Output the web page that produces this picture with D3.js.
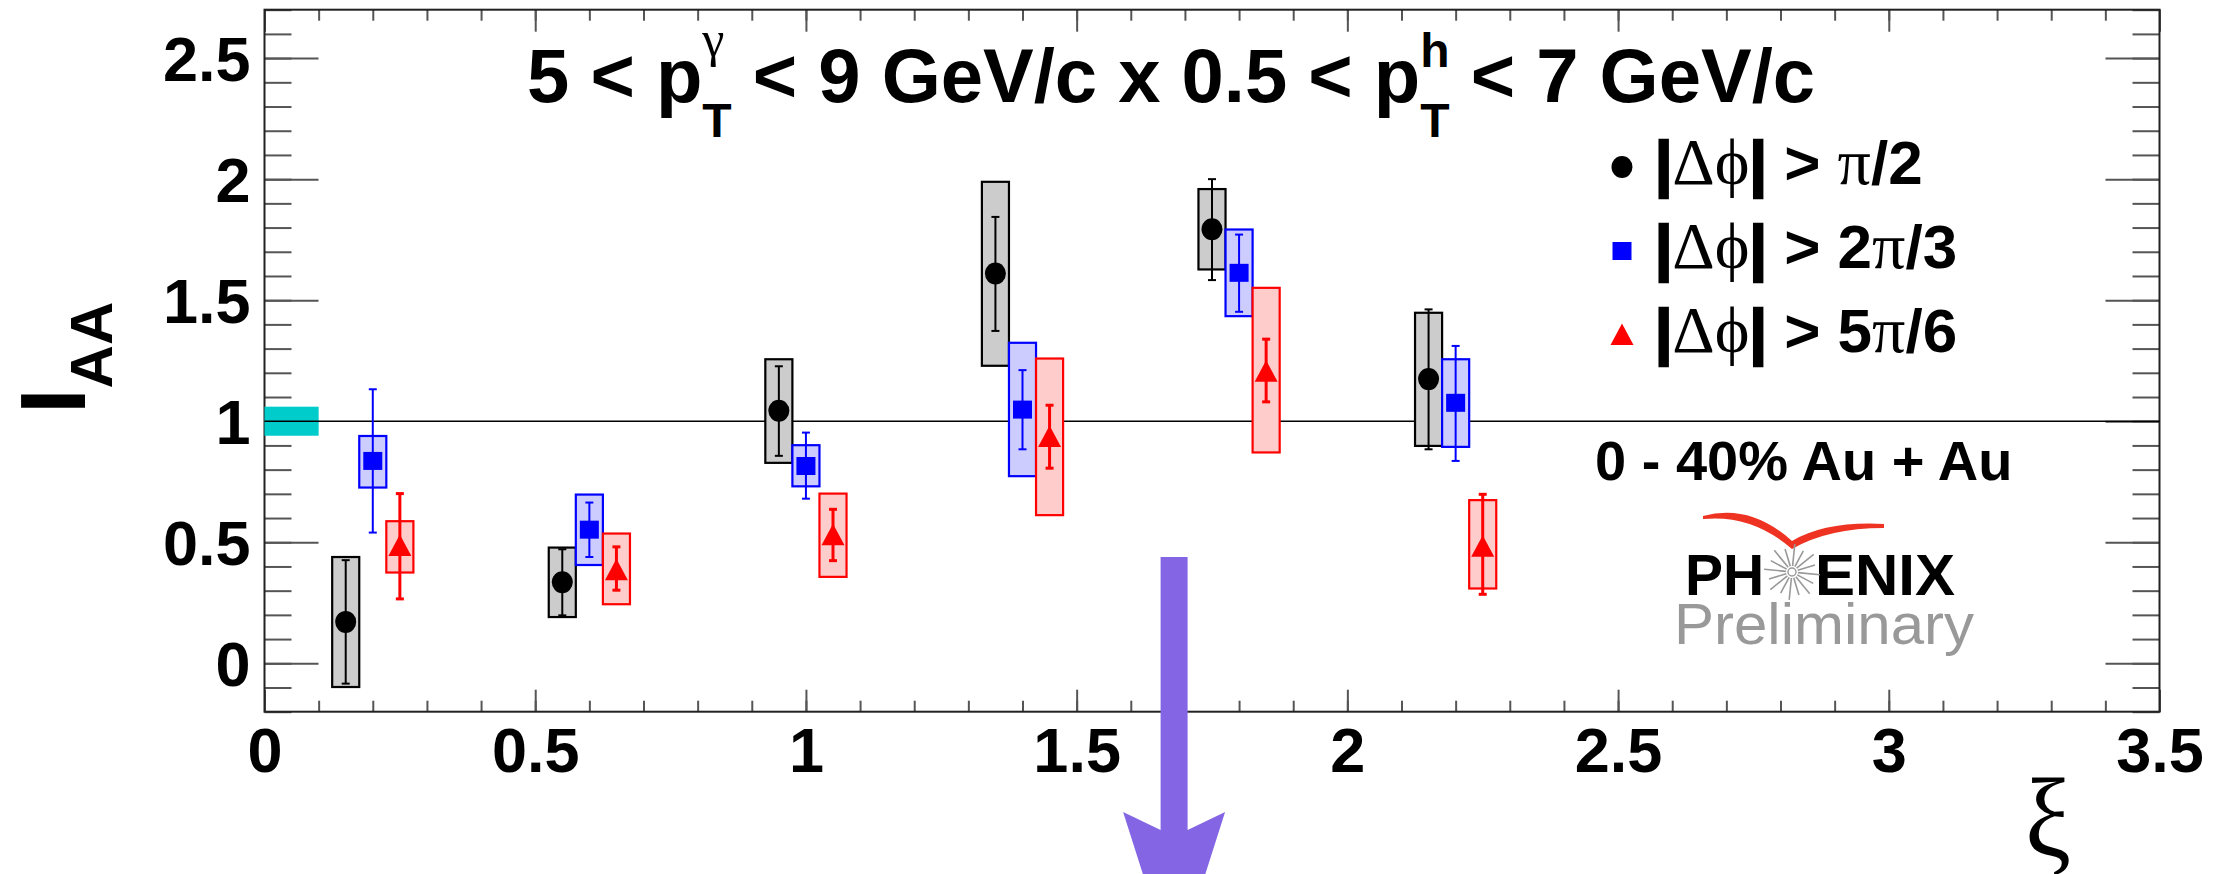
<!DOCTYPE html>
<html>
<head>
<meta charset="utf-8">
<script src="https://cdn.jsdelivr.net/npm/d3@7"></script>
<style>
  html, body { margin: 0; padding: 0; background: #fff; }
  svg { display: block; }
</style>
</head>
<body>
<svg id="chart" width="2221" height="874"></svg>
<script>
// ---------------- DATA ----------------
const seriesNames = ["|Δϕ| > π/2", "|Δϕ| > 2π/3", "|Δϕ| > 5π/6"];

const xiBlack      = [0.15, 0.55, 0.95, 1.35, 1.75, 2.15];
const iaaBlack     = [0.171, 0.335, 1.043, 1.610, 1.793, 1.174];
const statLoBlack  = [-0.084, 0.198, 0.857, 1.373, 1.583, 0.884];
const statHiBlack  = [0.426, 0.471, 1.227, 1.844, 2.000, 1.462];
const sysLoBlack   = [-0.098, 0.191, 0.828, 1.229, 1.627, 0.898];
const sysHiBlack   = [0.439, 0.478, 1.256, 1.989, 1.959, 1.448];

const xiBlue       = [0.20, 0.60, 1.00, 1.40, 1.80, 2.20];
const iaaBlue      = [0.836, 0.552, 0.815, 1.048, 1.613, 1.076];
const statLoBlue   = [0.540, 0.439, 0.680, 0.884, 1.452, 0.836];
const statHiBlue   = [1.132, 0.664, 0.953, 1.211, 1.771, 1.311];
const sysLoBlue    = [0.726, 0.406, 0.731, 0.773, 1.434, 0.894];
const sysHiBlue    = [0.939, 0.697, 0.901, 1.324, 1.792, 1.256];

const xiRed        = [0.25, 0.65, 1.05, 1.45, 1.85, 2.25];
const iaaRed       = [0.484, 0.384, 0.529, 0.935, 1.204, 0.481];
const statLoRed    = [0.266, 0.302, 0.424, 0.806, 1.080, 0.285];
const statHiRed    = [0.701, 0.481, 0.636, 1.066, 1.339, 0.698];
const sysLoRed     = [0.375, 0.244, 0.357, 0.612, 0.871, 0.309];
const sysHiRed     = [0.587, 0.536, 0.701, 1.259, 1.551, 0.674];

const normBandX = [0, 0.1];
const normBandY = [0.94, 1.06];
const refLine = 1;

const xTicks = [0, 0.5, 1, 1.5, 2, 2.5, 3, 3.5];
const xTickLabels = ["0", "0.5", "1", "1.5", "2", "2.5", "3", "3.5"];
const yTicks = [0, 0.5, 1, 1.5, 2, 2.5];
const yTickLabels = ["0", "0.5", "1", "1.5", "2", "2.5"];
const xDomain = [0, 3.5];
const yDomain = [-0.2, 2.7];
const arrowXi = 1.68;

// ---------------- LAYOUT ----------------
const L = 264.5, R = 2159.5, T = 9.7, B = 711.7;
const SANS = "'Liberation Sans', Arial, Helvetica, sans-serif";
const SERIF = "'Liberation Serif', 'DejaVu Serif', 'Times New Roman', serif";

const svg = d3.select("#chart");
svg.append("rect").attr("width", 2221).attr("height", 874).attr("fill", "#fff");

const x = d3.scaleLinear().domain(xDomain).range([L, R]);
const y = d3.scaleLinear().domain(yDomain).range([B, T]);

// ticks
const minorX = d3.range(0, 3.5001, 0.1).map(v => +v.toFixed(2));
const minorY = d3.range(-0.2, 2.7001, 0.1).map(v => +v.toFixed(2));
const tickColor = "#555";
function styleAxis(g) {
  g.select(".domain").remove();
  g.selectAll(".tick line").attr("stroke", tickColor).attr("stroke-width", 2);
}
svg.append("g").attr("transform", `translate(0,${B})`)
  .call(d3.axisBottom(x).tickValues(minorX).tickSizeInner(-11).tickSizeOuter(0).tickFormat(""))
  .call(styleAxis);
svg.append("g").attr("transform", `translate(0,${B})`)
  .call(d3.axisBottom(x).tickValues(xTicks).tickSizeInner(-22).tickSizeOuter(0).tickFormat(""))
  .call(styleAxis);
svg.append("g").attr("transform", `translate(0,${T})`)
  .call(d3.axisTop(x).tickValues(minorX).tickSizeInner(-11).tickSizeOuter(0).tickFormat(""))
  .call(styleAxis);
svg.append("g").attr("transform", `translate(0,${T})`)
  .call(d3.axisTop(x).tickValues(xTicks).tickSizeInner(-22).tickSizeOuter(0).tickFormat(""))
  .call(styleAxis);
svg.append("g").attr("transform", `translate(${L},0)`)
  .call(d3.axisLeft(y).tickValues(minorY).tickSizeInner(-27).tickSizeOuter(0).tickFormat(""))
  .call(styleAxis);
svg.append("g").attr("transform", `translate(${L},0)`)
  .call(d3.axisLeft(y).tickValues(yTicks).tickSizeInner(-54).tickSizeOuter(0).tickFormat(""))
  .call(styleAxis);
svg.append("g").attr("transform", `translate(${R},0)`)
  .call(d3.axisRight(y).tickValues(minorY).tickSizeInner(-27).tickSizeOuter(0).tickFormat(""))
  .call(styleAxis);
svg.append("g").attr("transform", `translate(${R},0)`)
  .call(d3.axisRight(y).tickValues(yTicks).tickSizeInner(-54).tickSizeOuter(0).tickFormat(""))
  .call(styleAxis);

// tick labels
const xl = svg.append("g").attr("transform", `translate(0,${B})`)
  .call(d3.axisBottom(x).tickValues(xTicks).tickSize(0).tickPadding(16)
        .tickFormat((d, i) => xTickLabels[i]));
xl.select(".domain").remove();
xl.selectAll("text").attr("font-family", SANS).attr("font-weight", "bold")
  .attr("font-size", 63).attr("fill", "#000");
const yl = svg.append("g").attr("transform", `translate(${L},0)`)
  .call(d3.axisLeft(y).tickValues(yTicks).tickSize(0).tickPadding(14)
        .tickFormat((d, i) => yTickLabels[i]));
yl.select(".domain").remove();
yl.selectAll("text").attr("font-family", SANS).attr("font-weight", "bold")
  .attr("font-size", 63).attr("dy", "0.36em").attr("fill", "#000");

// frame
svg.append("rect").attr("x", L).attr("y", T).attr("width", R - L).attr("height", B - T)
  .attr("fill", "none").attr("stroke", "#222").attr("stroke-width", 2);

// normalization band
svg.append("rect")
  .attr("x", x(normBandX[0])).attr("width", x(normBandX[1]) - x(normBandX[0]))
  .attr("y", y(normBandY[1])).attr("height", y(normBandY[0]) - y(normBandY[1]))
  .attr("fill", "#00cccc");

// reference line
svg.append("line").attr("x1", L).attr("x2", R).attr("y1", y(refLine)).attr("y2", y(refLine))
  .attr("stroke", "#000").attr("stroke-width", 1.6);

// ---------------- SERIES ----------------
const halfW = 0.025;
const series = [
  { xi: xiBlack, v: iaaBlack, sl: statLoBlack, sh: statHiBlack, yl: sysLoBlack, yh: sysHiBlack,
    stroke: "#000", fill: "#cccccc", errW: 2, marker: "circle" },
  { xi: xiBlue, v: iaaBlue, sl: statLoBlue, sh: statHiBlue, yl: sysLoBlue, yh: sysHiBlue,
    stroke: "#0000ff", fill: "#ccccff", errW: 2, marker: "square" },
  { xi: xiRed, v: iaaRed, sl: statLoRed, sh: statHiRed, yl: sysLoRed, yh: sysHiRed,
    stroke: "#ff0000", fill: "#ffcccc", errW: 3, marker: "triangle" }
];

function drawMarker(g, type, cx, cy, color) {
  if (type === "circle") {
    g.append("ellipse").attr("cx", cx).attr("cy", cy).attr("rx", 10.5).attr("ry", 11).attr("fill", color);
  } else if (type === "square") {
    g.append("rect").attr("x", cx - 9.5).attr("y", cy - 9).attr("width", 19).attr("height", 18).attr("fill", color);
  } else {
    g.append("path").attr("d", `M${cx},${cy - 11.5} L${cx + 11.5},${cy + 10} L${cx - 11.5},${cy + 10} Z`).attr("fill", color);
  }
}

series.forEach(s => {
  const g = svg.append("g");
  s.xi.forEach((xv, i) => {
    g.append("rect")
      .attr("x", x(xv - halfW)).attr("width", x(xv + halfW) - x(xv - halfW))
      .attr("y", y(s.yh[i])).attr("height", y(s.yl[i]) - y(s.yh[i]))
      .attr("fill", s.fill).attr("stroke", s.stroke).attr("stroke-width", 2.2);
  });
});
series.forEach(s => {
  const g = svg.append("g");
  s.xi.forEach((xv, i) => {
    const cx = x(xv);
    g.append("line").attr("x1", cx).attr("x2", cx).attr("y1", y(s.sh[i])).attr("y2", y(s.sl[i]))
      .attr("stroke", s.stroke).attr("stroke-width", s.errW);
    [s.sh[i], s.sl[i]].forEach(e => {
      g.append("line").attr("x1", cx - 4).attr("x2", cx + 4).attr("y1", y(e)).attr("y2", y(e))
        .attr("stroke", s.stroke).attr("stroke-width", s.errW);
    });
    drawMarker(g, s.marker, cx, y(s.v[i]), s.stroke);
  });
});

// ---------------- TITLE ----------------
const titleParts = [
  { t: "5 < p", size: 76 },
  { stack: [ { t: "γ", size: 50, dy: -46, family: SERIF, weight: "normal" },
             { t: "T", size: 48, dy: 35 } ] },
  { t: " < 9 GeV/c x 0.5 < p", size: 76 },
  { stack: [ { t: "h", size: 48, dy: -35 }, { t: "T", size: 48, dy: 35 } ] },
  { t: " < 7 GeV/c", size: 76 }
];
const title = svg.append("text").attr("x", 527).attr("y", 102)
  .attr("font-family", SANS).attr("font-weight", "bold").attr("font-size", 76)
  .attr("xml:space", "preserve").style("white-space", "pre");
let curY = 0;
titleParts.forEach(p => {
  if (p.stack) {
    const a = p.stack[0], b = p.stack[1];
    const ta = title.append("tspan").attr("dy", a.dy - curY).attr("font-size", a.size)
      .attr("font-family", a.family || SANS).attr("font-weight", a.weight || "bold").text(a.t);
    const wa = ta.node().getComputedTextLength();
    const tb = title.append("tspan").attr("dx", -wa).attr("dy", b.dy - a.dy).attr("font-size", b.size)
      .attr("font-family", b.family || SANS).attr("font-weight", b.weight || "bold").text(b.t);
    const wb = tb.node().getComputedTextLength();
    curY = b.dy;
    p._pad = Math.max(0, wa - wb);
    p._last = tb;
  } else {
    title.append("tspan").attr("dy", -curY).attr("font-size", p.size).text(p.t);
    curY = 0;
  }
});
titleParts.forEach(p => {
  if (p.stack && p._pad > 0) {
    d3.select(p._last.node().nextSibling).attr("dx", p._pad);
  }
});

// ---------------- Y LABEL ----------------
svg.append("text").attr("transform", "translate(85,414) rotate(-90)")
  .attr("font-family", SANS).attr("font-weight", "bold").attr("font-size", 92)
  .text("I").append("tspan").attr("font-size", 60).attr("dy", 27).text("AA");

// ---------------- X LABEL ----------------
const xiLab = svg.append("text").attr("x", 0).attr("y", 0)
  .attr("font-family", SERIF).attr("font-size", 104).text("ξ");
{
  const bb = xiLab.node().getBBox();
  // glyph ink covers roughly 0.165..0.905 of the font box height
  const boxH = 123;
  const sx = 46 / bb.width;
  const sy = boxH / bb.height;
  const ty = 777 - 0.165 * boxH - bb.y * sy;
  xiLab.attr("transform", `translate(${2025 - bb.x * sx},${ty}) scale(${sx},${sy})`);
}

// ---------------- LEGEND ----------------
const legY = [184, 268, 352];
const legMarkers = ["circle", "square", "triangle"];
const legColors = ["#000", "#0000ff", "#ff0000"];
seriesNames.forEach((name, i) => {
  drawMarker(svg.append("g"), legMarkers[i], 1622, legY[i] - 17, legColors[i]);
  const t = svg.append("text").attr("x", 1655).attr("y", legY[i])
    .attr("font-family", SANS).attr("font-weight", "bold").attr("font-size", 62)
    .attr("xml:space", "preserve").style("white-space", "pre");
  Array.from(name).forEach(ch => {
    const greek = /[Δϕπ]/.test(ch);
    const ts = t.append("tspan").attr("font-family", greek ? SERIF : SANS)
      .attr("font-weight", greek ? "normal" : "bold")
      .attr("font-size", greek ? 66 : 62).text(ch);
    if (ch === "|") ts.attr("stroke", "#000").attr("stroke-width", 2.5);
  });
});

svg.append("text").attr("x", 1595).attr("y", 480)
  .attr("font-family", SANS).attr("font-weight", "bold").attr("font-size", 56)
  .text("0 - 40% Au + Au");

// ---------------- PHENIX LOGO ----------------
const logo = svg.append("g");
logo.append("path")
  .attr("d", "M1703,516 Q1750,503 1792,541 Q1826,521 1884,524 L1884,528 Q1828,528 1792,549 Q1752,514 1703,519 Z")
  .attr("fill", "#ee3322");
logo.append("text").attr("x", 1685).attr("y", 595)
  .attr("font-family", SANS).attr("font-weight", "bold").attr("font-size", 57).text("PH");
logo.append("text").attr("x", 1815).attr("y", 595)
  .attr("font-family", SANS).attr("font-weight", "bold").attr("font-size", 57)
  .attr("textLength", 140).attr("lengthAdjust", "spacingAndGlyphs").text("ENIX");
d3.range(16).forEach(k => {
  const a = k * Math.PI * 2 / 16 + 0.1;
  const r2 = (k % 2 === 0) ? 28 : 24;
  logo.append("line")
    .attr("x1", 1792 + 6 * Math.cos(a)).attr("y1", 572 + 6 * Math.sin(a))
    .attr("x2", 1792 + r2 * Math.cos(a)).attr("y2", 572 + r2 * Math.sin(a))
    .attr("stroke", "#999").attr("stroke-width", 1.6);
});
logo.append("circle").attr("cx", 1792).attr("cy", 572).attr("r", 4)
  .attr("fill", "#fff").attr("stroke", "#999").attr("stroke-width", 1.4);
logo.append("text").attr("x", 1674).attr("y", 644)
  .attr("font-family", SANS).attr("font-size", 58).attr("fill", "#999")
  .attr("textLength", 300).attr("lengthAdjust", "spacingAndGlyphs").text("Preliminary");

// ---------------- ARROW ----------------
const ax = x(arrowXi);
svg.append("path")
  .attr("d", `M${ax - 13.5},557 L${ax + 13.5},557 L${ax + 13.5},830 L${ax + 51},812 L${ax},972 L${ax - 51},812 L${ax - 13.5},830 Z`)
  .attr("fill", "#8466e4");
</script>
</body>
</html>
